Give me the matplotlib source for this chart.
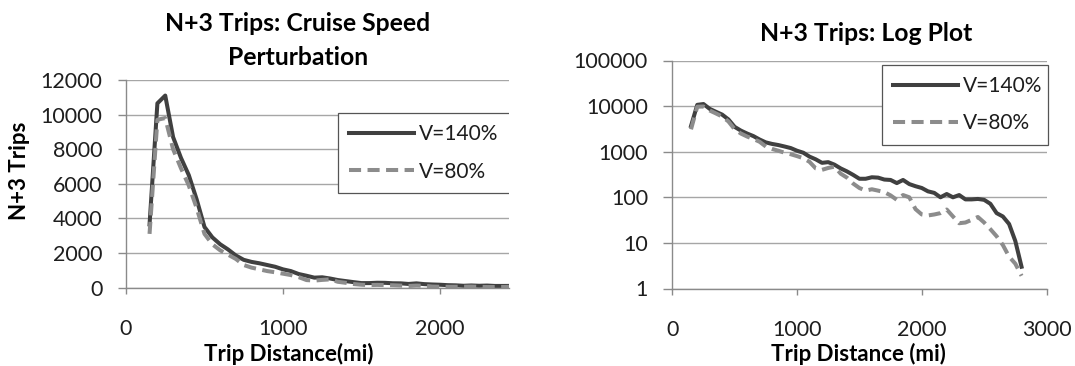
import matplotlib
matplotlib.use('Agg')
from matplotlib import pyplot as plt
from matplotlib.ticker import FixedLocator, FuncFormatter, NullLocator

plt.rcParams['font.family'] = ['Lato', 'DejaVu Sans']

# trip distance bins (mi)
distance = [150, 200, 250, 300, 350, 400, 450, 500, 550, 600,
            650, 700, 750, 800, 850, 900, 950, 1000, 1050, 1100,
            1150, 1200, 1250, 1300, 1350, 1400, 1450, 1500, 1550, 1600,
            1650, 1700, 1750, 1800, 1850, 1900, 1950, 2000, 2050, 2100,
            2150, 2200, 2250, 2300, 2350, 2400, 2450, 2500, 2550, 2600,
            2650, 2700, 2750, 2800]

# number of N+3 trips, cruise speed 140%
trips_v140 = [3650, 10650, 11100, 8700, 7500, 6500, 5100, 3500, 2900, 2500,
              2200, 1850, 1600, 1480, 1400, 1300, 1200, 1050, 950, 780,
              680, 570, 590, 520, 430, 370, 310, 255, 255, 275,
              270, 245, 240, 205, 240, 195, 175, 160, 135, 125,
              100, 118, 100, 112, 90, 90, 92, 88, 72, 45,
              38, 26, 11, 3]

# number of N+3 trips, cruise speed 80%
trips_v80 = [3100, 9700, 9800, 8000, 6900, 5900, 4600, 3100, 2500, 2150,
             1900, 1650, 1300, 1150, 1050, 950, 880, 800, 720, 600,
             430, 400, 440, 470, 330, 270, 200, 160, 140, 150,
             140, 130, 110, 88, 112, 100, 55, 42, 40, 42,
             45, 54, 38, 27, 28, 32, 37, 28, 20, 14,
             9, 5, 3.5, 1.9]

lin_yticks = [0, 2000, 4000, 6000, 8000, 10000, 12000]
lin_xticks = [0, 1000, 2000]
log_yticks = [1, 10, 100, 1000, 10000, 100000]
log_xticks = [0, 1000, 2000, 3000]

W, H = 1075, 366
dark = '#404040'
light = '#8c8c8c'
grid_c = '#a6a6a6'
axis_c = '#8a8a8a'
text_c = '#1e1e1e'

fig = plt.figure(figsize=(W / 100, H / 100), dpi=100)


def rect(x0, x1, y_top, y_bot):
    return [x0 / W, (H - y_bot) / H, (x1 - x0) / W, (y_bot - y_top) / H]


def style(ax, ylen):
    for s in ['top', 'right']:
        ax.spines[s].set_visible(False)
    for s in ['left', 'bottom']:
        ax.spines[s].set_color(axis_c)
        ax.spines[s].set_linewidth(1.0)
    ax.grid(axis='y', color=grid_c, linewidth=1.0)
    ax.set_axisbelow(True)
    ax.tick_params(axis='x', direction='out', length=4.5, width=1.0, color=axis_c,
                   labelsize=15.5, labelcolor=text_c, pad=18.5)
    ax.tick_params(axis='y', direction='out', length=ylen, width=1.0, color=axis_c,
                   labelsize=15.5, labelcolor=text_c, pad=11)


def add_legend(ax, x, y, w):
    # legend box in pixel units, content kept to the left
    leg = ax.legend(loc='upper left', bbox_to_anchor=(x / W, 1 - y / H, w / W, 0.01),
                    bbox_transform=fig.transFigure, borderaxespad=0, mode='expand',
                    fontsize=15, handlelength=3.1, handletextpad=0.25,
                    borderpad=0.55, labelspacing=0.82, fancybox=False,
                    framealpha=1, edgecolor='#555555')
    leg.get_frame().set_linewidth(0.9)
    for t in leg.get_texts():
        t.set_color(text_c)
    return leg


# linear plot
ax1 = fig.add_axes(rect(126, 509, 80, 287.5))
ax1.plot(distance, trips_v140, color=dark, lw=2.9, label='V=140%', solid_joinstyle='round')
ax1.plot(distance, trips_v80, color=light, lw=2.9, dashes=(3, 1.6), label='V=80%')
ax1.set_xlim(0, 2440)
ax1.set_ylim(0, 12000)
ax1.xaxis.set_major_locator(FixedLocator(lin_xticks))
ax1.yaxis.set_major_locator(FixedLocator(lin_yticks))
style(ax1, 6)
leg1 = add_legend(ax1, 338, 116.7, 200)
leg1.get_frame().set_clip_box(ax1.bbox)
leg1.get_frame().set_clip_on(True)

# log plot
ax2 = fig.add_axes(rect(672.3, 1046.5, 60.5, 288.5))
ax2.plot(distance, trips_v140, color=dark, lw=2.9, label='V=140%', solid_joinstyle='round')
ax2.plot(distance, trips_v80, color=light, lw=2.9, dashes=(3, 1.6), label='V=80%')
ax2.set_yscale('log')
ax2.set_xlim(0, 3000)
ax2.set_ylim(1, 100000)
ax2.xaxis.set_major_locator(FixedLocator(log_xticks))
ax2.yaxis.set_major_locator(FixedLocator(log_yticks))
ax2.yaxis.set_minor_locator(NullLocator())
ax2.yaxis.set_major_formatter(FuncFormatter(lambda v, p: '%d' % v))
style(ax2, 6.5)
add_legend(ax2, 881.7, 68.3, 166)

# titles and axis labels
fig.text(298 / W, 1 - 30.7 / H, 'N+3 Trips: Cruise Speed', ha='center', va='baseline',
         fontsize=17.8, fontweight='bold', color='black')
fig.text(298 / W, 1 - 65 / H, 'Perturbation', ha='center', va='baseline',
         fontsize=17.8, fontweight='bold', color='black')
fig.text(866 / W, 1 - 40.7 / H, 'N+3 Trips: Log Plot', ha='center', va='baseline',
         fontsize=17.8, fontweight='bold', color='black')
fig.text(288.5 / W, 1 - 361 / H, 'Trip Distance(mi)', ha='center', va='baseline',
         fontsize=16, fontweight='bold', color='black')
fig.text(858 / W, 1 - 361 / H, 'Trip Distance (mi)', ha='center', va='baseline',
         fontsize=16, fontweight='bold', color='black')
fig.text(20 / W, 1 - 171 / H, 'N+3 Trips', ha='center', va='center', rotation=90,
         fontsize=16, fontweight='bold', color='black')

fig.savefig('out.png', dpi=100)
